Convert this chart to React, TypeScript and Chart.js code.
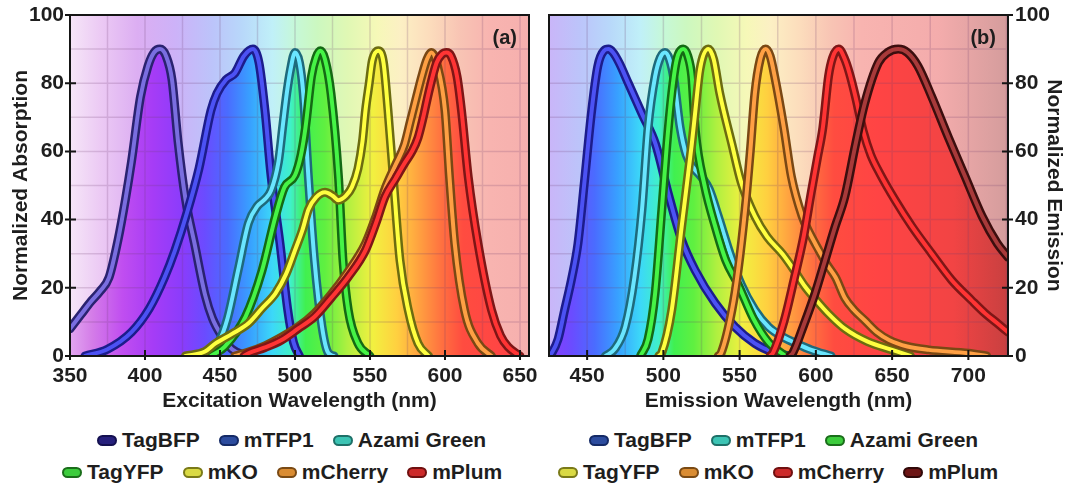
import React, { useEffect, useRef } from 'react';
import { Chart, registerables } from 'chart.js';

Chart.register(...registerables);

type Pt = [number, number];

// ---------- data ----------
const proteinNames = ['TagBFP', 'mTFP1', 'Azami Green', 'TagYFP', 'mKO', 'mCherry', 'mPlum'];

// Excitation (absorption) spectra: [wavelength nm, normalized value]
const exTagBFP: Pt[] = [[350, 8], [357, 12], [364, 16], [370, 19], [376, 23], [382, 34], [387, 46], [391, 57], [397, 76], [402, 85], [406, 89], [410, 90], [414, 88], [418, 81], [422, 63], [427, 46], [433, 33], [440, 18], [445, 11], [451, 6], [458, 2], [468, 0]];
const exMTFP1: Pt[] = [[360, 0], [375, 2], [391, 7], [403, 14], [413, 23], [420, 31], [428, 42], [436, 55], [444, 72], [448, 77], [454, 81], [460, 83], [466, 88], [472, 90], [476, 86], [480, 72], [484, 53], [490, 33], [495, 14], [499, 4], [503, 0]];
const exAzami: Pt[] = [[436, 0], [442, 1.5], [449, 4], [455, 11], [462, 25], [469, 39], [475, 44], [480, 46], [484, 48.5], [489, 57], [492, 68], [494.5, 77], [497, 84], [500, 89], [503, 86], [505.5, 77], [509, 52], [513, 28], [518, 8.6], [522, 1], [526, 0]];
const exTagYFP: Pt[] = [[444, 0], [453, 2.7], [467, 11.5], [478, 25], [487, 41], [493, 49.5], [500, 53], [504, 59], [507, 67], [511, 82], [514, 87.5], [517, 89.5], [520, 87], [524, 77], [529, 52.5], [532, 28], [535.5, 13.5], [542, 3.7], [550, 0]];
const exMKO: Pt[] = [[427, 0], [440, 1.3], [447, 3.7], [458, 6.5], [469, 9.6], [478, 14], [487, 18.4], [494, 24], [500, 31], [505, 37], [509, 43], [514, 46.5], [520, 48], [525, 47], [529, 45.7], [534, 47], [538, 49.6], [542, 55], [545, 63], [547, 72], [549.5, 80], [551.5, 86.5], [555.5, 89.5], [559, 86], [562, 72], [565.5, 52.5], [570, 28], [575.5, 13.5], [582, 3.7], [589, 0]];
const exMCherry: Pt[] = [[460, 0], [468, 1], [480, 3], [491, 5.5], [502, 8.5], [513, 12.5], [524, 18], [535, 24.5], [547, 33], [554, 41], [560, 49], [567, 56], [573, 62], [577, 69], [581, 76], [584.5, 82], [588, 87], [591, 89], [595, 85], [600, 72], [603, 52.5], [606.5, 33], [613, 13.5], [622, 3.7], [631, 0]];
const exMPlum: Pt[] = [[466, 0], [469, 0.8], [480, 2.5], [491, 4.7], [502, 8], [513, 11.5], [524, 17], [535.5, 23.2], [547, 31], [554, 39], [560, 46.7], [567, 52], [573, 56.5], [578, 60], [582, 64], [585.5, 70], [589, 77], [594.4, 86], [598, 88.5], [601, 89], [604, 88], [608, 82], [611, 72], [615.5, 52.5], [622, 33], [631, 13.5], [637, 6], [642, 2.7], [650, 0]];

// Emission spectra
const emTagBFP: Pt[] = [[425, 0], [427, 1], [431, 5], [435, 13], [440, 23], [444, 33], [448, 50], [453, 72], [457, 85], [461, 89.5], [464, 90], [467, 89], [471, 86], [477, 80], [486, 71], [495, 62], [503, 48], [512, 34], [521, 25], [534, 15.5], [547, 8.5], [560, 3.7], [571, 1.3], [582, 0]];
const emMTFP1: Pt[] = [[462, 0], [468, 2], [475, 8.6], [481, 23], [486, 43], [490, 67], [494.6, 82], [498, 87.5], [501, 89], [504, 87], [507, 81], [511, 67], [515, 59], [520, 55], [525, 52.5], [530, 49], [536, 41], [543, 31], [551, 21], [560, 13.5], [569, 8.5], [578, 5.7], [588, 3.5], [597, 1.8], [610, 0]];
const emAzami: Pt[] = [[485, 0], [490, 5], [494.6, 18.4], [499, 43], [502.3, 62], [505.5, 77], [508.8, 87], [513, 90], [516, 88], [518.6, 82], [521, 66], [527, 50], [534, 38], [541, 28], [549, 21], [559, 11], [569, 4], [580, 0]];
const emTagYFP: Pt[] = [[497, 0], [499, 1], [505.5, 13.5], [512, 38], [518.6, 62], [521, 72], [524, 84], [529.5, 90], [533, 87], [537, 77], [545, 62], [551, 51], [560, 41], [568, 35], [578, 30], [586, 25], [593, 20.3], [600, 16.5], [608, 12.5], [619, 8], [634, 4.2], [650, 1.8], [662, 0]];
const emMKO: Pt[] = [[536, 0], [538, 1], [545, 13.5], [549, 25], [553.6, 43], [557, 60], [560, 77], [563.5, 87], [567, 90], [570, 88], [573, 82], [579, 67], [584, 52.5], [591, 41], [596, 36], [602, 31], [607, 27], [613, 23], [619, 17], [625, 13.5], [632, 10.5], [640, 7], [648, 4.7], [660, 2.8], [674, 1.8], [700, 0.8], [712, 0]];
const emMCherry: Pt[] = [[570, 0], [572, 1], [579, 10], [586, 23], [592, 35], [597, 48], [601, 58], [604.6, 67], [608.3, 82], [611, 87.5], [615, 90], [619, 87], [622, 83], [626, 76], [631, 66], [636, 59], [642, 53.5], [652, 45.7], [663, 38], [676, 30], [689, 22.3], [702, 16.4], [711, 12.5], [719, 9.6], [726, 7]];
const emMPlum: Pt[] = [[583, 0], [585, 1], [592, 9], [599.5, 18.4], [606, 28], [612.7, 38], [619, 46.7], [626, 62], [632, 74], [641, 86], [647, 89], [654, 90], [660, 89], [667, 85], [676, 76], [687, 64], [698, 52.5], [709, 41], [719, 33], [726, 29]];

const exSeries = [exTagBFP, exMTFP1, exAzami, exTagYFP, exMKO, exMCherry, exMPlum];
const emSeries = [emTagBFP, emMTFP1, emAzami, emTagYFP, emMKO, emMCherry, emMPlum];

// axes
const exRange = [350, 656];
const emRange = [425, 726];
const exGridX = [350, 375, 400, 425, 450, 475, 500, 525, 550, 575, 600, 625, 650];
const exTickLabels = [350, 400, 450, 500, 550, 600, 650];
const emGridX = [425, 450, 475, 500, 525, 550, 575, 600, 625, 650, 675, 700, 725];
const emTickLabels = [450, 500, 550, 600, 650, 700];
const yGrid = [0, 10, 20, 30, 40, 50, 60, 70, 80, 90, 100];
const yTickLabels = [0, 20, 40, 60, 80, 100];

// ---------- styles ----------
const FONT = "'Liberation Sans', Arial, Helvetica, sans-serif";
const TEXT = '#1e1e1e';

const exInner = ['#7a6ee0', '#4c52f4', '#6ae6ff', '#46f446', '#ffff40', '#ffa044', '#ff3434'];
const exOuter = ['#2a2270', '#1c1c8c', '#1e6a7c', '#146a14', '#6c6c10', '#7a4814', '#7e1616'];
const emInner = ['#4c52f4', '#6ae6ff', '#46f446', '#ffff40', '#ffa044', '#ff3434', '#a83a3a'];
const emOuter = ['#1c1c8c', '#1e6a7c', '#146a14', '#6c6c10', '#7a4814', '#7e1616', '#3c0e0e'];

const exLegendFill = ['#26207c', '#2c4c9e', '#3cc4b4', '#3ccc3c', '#dada44', '#da8c32', '#cc2a2a'];
const exLegendEdge = ['#141050', '#142a66', '#1e7068', '#1a6e1a', '#7a7a18', '#7a4a14', '#701010'];
const emLegendFill = ['#2c4c9e', '#3cc4b4', '#3ccc3c', '#dada44', '#da8c32', '#cc2a2a', '#6c1414'];
const emLegendEdge = ['#142a66', '#1e7068', '#1a6e1a', '#7a7a18', '#7a4a14', '#701010', '#300808'];

const fillStops: [number, string][] = [
  [350, '#e2a6f0'], [365, '#d47ce8'], [385, '#c04ef0'], [405, '#a63cf6'], [425, '#8a3cfc'],
  [440, '#6a4cff'], [455, '#4a6cff'], [470, '#38a0ff'], [485, '#3cd8f8'], [497, '#40f0c8'],
  [507, '#40f050'], [520, '#60f040'], [535, '#b0f040'], [552, '#f2f040'], [568, '#ffd040'],
  [583, '#ffa040'], [598, '#ff7040'], [612, '#ff4c40'], [640, '#ff4444'], [690, '#f24444'], [726, '#c84040'],
];
const bgStops: [number, string][] = [
  [350, '#f6e6f8'], [370, '#eccaf4'], [395, '#dcaef2'], [420, '#cdb2f8'], [445, '#bcc4fa'],
  [465, '#b8d8fa'], [485, '#c0f0f8'], [500, '#c6f8d8'], [515, '#ccf8c0'], [535, '#e0f8b4'],
  [555, '#f6f8b8'], [570, '#fcf0c4'], [590, '#fcdcbc'], [610, '#f8c4b4'], [630, '#f8b4b0'],
  [680, '#f4acac'], [726, '#d49c9c'],
];

function spectrum(chart: any, stops: [number, string][]) {
  const x = chart.scales.x;
  const first = stops[0][0];
  const last = stops[stops.length - 1][0];
  const g = chart.ctx.createLinearGradient(x.getPixelForValue(first), 0, x.getPixelForValue(last), 0);
  stops.forEach(([nm, c]) => g.addColorStop((nm - first) / (last - first), c));
  return g;
}

interface PanelSpec {
  series: Pt[][];
  inner: string[];
  outer: string[];
  range: number[];
  gridX: number[];
  tickLabels: number[];
  xTitle: string;
  yTitle: string;
  yPos: 'left' | 'right';
  tag: string;
  left: number;
  width: number;
  padding: { left: number; right: number; top: number; bottom: number };
  yAxisWidth: number;
}

function makeDeco(s: PanelSpec) {
  return {
    id: 'deco',
    beforeDatasetsDraw(chart: any) {
      const { ctx, chartArea: a } = chart;
      ctx.save();
      ctx.fillStyle = spectrum(chart, bgStops);
      ctx.fillRect(a.left, a.top, a.right - a.left, a.bottom - a.top);
      ctx.restore();
    },
    afterDatasetDraw(chart: any, args: any) {
      if (args.index !== 0) return;
      const { ctx, chartArea: a, scales } = chart;
      ctx.save();
      ctx.strokeStyle = 'rgba(110, 60, 110, 0.2)';
      ctx.lineWidth = 1.5;
      ctx.beginPath();
      s.gridX.forEach((v) => {
        const px = scales.x.getPixelForValue(v);
        if (px <= a.left + 1 || px >= a.right - 1) return;
        ctx.moveTo(px, a.top);
        ctx.lineTo(px, a.bottom);
      });
      yGrid.forEach((v) => {
        const py = scales.y.getPixelForValue(v);
        if (py <= a.top + 1 || py >= a.bottom - 1) return;
        ctx.moveTo(a.left, py);
        ctx.lineTo(a.right, py);
      });
      ctx.stroke();
      ctx.restore();
    },
    afterDraw(chart: any) {
      const { ctx, chartArea: a, scales } = chart;
      ctx.save();
      ctx.strokeStyle = '#151515';
      ctx.lineWidth = 2;
      ctx.strokeRect(a.left, a.top, a.right - a.left, a.bottom - a.top);
      ctx.beginPath();
      s.tickLabels.forEach((v) => {
        const px = scales.x.getPixelForValue(v);
        ctx.moveTo(px, a.bottom + 4);
        ctx.lineTo(px, a.bottom - 6);
      });
      yTickLabels.forEach((v) => {
        const py = scales.y.getPixelForValue(v);
        if (s.yPos === 'left') {
          ctx.moveTo(a.left - 5, py);
          ctx.lineTo(a.left + 6, py);
        } else {
          ctx.moveTo(a.right + 5, py);
          ctx.lineTo(a.right - 6, py);
        }
      });
      ctx.stroke();
      ctx.fillStyle = TEXT;
      ctx.font = `bold 20px ${FONT}`;
      ctx.textAlign = 'right';
      ctx.textBaseline = 'middle';
      ctx.fillText(s.tag, a.right - 12, a.top + 23);
      ctx.restore();
    },
  };
}

function buildConfig(s: PanelSpec): any {
  const toXY = (pts: Pt[]) => pts.map(([x, y]) => ({ x, y }));
  const common = { pointRadius: 0, pointHoverRadius: 0, cubicInterpolationMode: 'monotone', clip: 0 };
  const datasets: any[] = [];
  s.series.forEach((pts, i) =>
    datasets.push({
      ...common,
      label: proteinNames[i] + ' fill',
      data: toXY(pts),
      fill: 'origin',
      backgroundColor: (c: any) => (c.chart.chartArea ? spectrum(c.chart, fillStops) : 'rgba(0,0,0,0)'),
      borderColor: 'rgba(0,0,0,0)',
      borderWidth: 0,
      order: 100,
    }),
  );
  s.series.forEach((pts, i) =>
    datasets.push({
      ...common,
      label: proteinNames[i] + ' edge',
      data: toXY(pts),
      fill: false,
      borderColor: s.outer[i],
      borderWidth: 9,
      borderJoinStyle: 'round',
      borderCapStyle: 'round',
      order: 2 * (7 - i) + 1,
    }),
  );
  s.series.forEach((pts, i) =>
    datasets.push({
      ...common,
      label: proteinNames[i],
      data: toXY(pts),
      fill: false,
      borderColor: s.inner[i],
      borderWidth: 4,
      borderJoinStyle: 'round',
      borderCapStyle: 'round',
      order: 2 * (7 - i),
    }),
  );

  const font = { family: FONT, size: 21, weight: 'bold' as const };

  return {
    type: 'line',
    data: { datasets },
    plugins: [makeDeco(s)],
    options: {
      responsive: false,
      animation: false,
      devicePixelRatio: 1,
      layout: { padding: s.padding },
      events: [],
      plugins: { legend: { display: false }, tooltip: { enabled: false } },
      scales: {
        x: {
          type: 'linear',
          min: s.range[0],
          max: s.range[1],
          afterBuildTicks: (sc: any) => {
            sc.ticks = s.gridX.map((v) => ({ value: v }));
          },
          afterFit: (sc: any) => {
            sc.height = 64;
            sc.paddingLeft = 0;
            sc.paddingRight = 0;
          },
          grid: { display: false, drawTicks: false },
          border: { display: false },
          ticks: {
            autoSkip: false,
            maxRotation: 0,
            minRotation: 0,
            padding: 8,
            font,
            color: TEXT,
            callback: (v: any) => (s.tickLabels.includes(Number(v)) ? String(v) : ''),
          },
          title: { display: true, text: s.xTitle, font, color: TEXT, padding: { top: 0, bottom: 6 } },
        },
        y: {
          type: 'linear',
          position: s.yPos,
          min: 0,
          max: 100,
          afterBuildTicks: (sc: any) => {
            sc.ticks = yGrid.map((v) => ({ value: v }));
          },
          afterFit: (sc: any) => {
            sc.width = s.yAxisWidth;
            sc.paddingTop = 0;
            sc.paddingBottom = 0;
          },
          grid: { display: false, drawTicks: false },
          border: { display: false },
          ticks: {
            autoSkip: false,
            padding: s.yPos === 'left' ? 6 : 7,
            font,
            color: TEXT,
            callback: (v: any) => (yTickLabels.includes(Number(v)) ? String(v) : ''),
          },
          title: {
            display: true,
            text: s.yTitle,
            font,
            color: TEXT,
            padding: { top: s.yPos === 'left' ? 9 : 2, bottom: 0 },
          },
        },
      },
    },
  };
}

function Panel({ spec }: { spec: PanelSpec }) {
  const ref = useRef<HTMLCanvasElement | null>(null);
  useEffect(() => {
    if (!ref.current) return;
    const chart = new Chart(ref.current, buildConfig(spec));
    return () => chart.destroy();
  }, [spec]);
  return (
    <canvas
      ref={ref}
      width={spec.width}
      height={420}
      style={{ position: 'absolute', left: spec.left, top: 0, width: spec.width, height: 420 }}
    />
  );
}

function LegendRow({ names, fills, edges, left, top }: { names: string[]; fills: string[]; edges: string[]; left: number; top: number }) {
  return (
    <div
      style={{
        position: 'absolute',
        left,
        top,
        height: 26,
        display: 'flex',
        alignItems: 'center',
        whiteSpace: 'nowrap',
        fontFamily: FONT,
        fontWeight: 'bold',
        fontSize: 21,
        lineHeight: '26px',
        color: TEXT,
      }}
    >
      {names.map((n, i) => (
        <div key={n} style={{ display: 'flex', alignItems: 'center', marginRight: i < names.length - 1 ? 19 : 0 }}>
          <span
            style={{
              display: 'inline-block',
              width: 20,
              height: 11,
              borderRadius: 6,
              background: fills[i],
              border: `2px solid ${edges[i]}`,
              boxSizing: 'border-box',
              marginRight: 5,
            }}
          />
          <span>{n}</span>
        </div>
      ))}
    </div>
  );
}

const exSpec: PanelSpec = {
  series: exSeries,
  inner: exInner,
  outer: exOuter,
  range: exRange,
  gridX: exGridX,
  tickLabels: exTickLabels,
  xTitle: 'Excitation Wavelength (nm)',
  yTitle: 'Normalized Absorption',
  yPos: 'left',
  tag: '(a)',
  left: 0,
  width: 540,
  padding: { left: 0, right: 11, top: 15, bottom: 0 },
  yAxisWidth: 70,
};

const emSpec: PanelSpec = {
  series: emSeries,
  inner: emInner,
  outer: emOuter,
  range: emRange,
  gridX: emGridX,
  tickLabels: emTickLabels,
  xTitle: 'Emission Wavelength (nm)',
  yTitle: 'Normalized Emission',
  yPos: 'right',
  tag: '(b)',
  left: 540,
  width: 528,
  padding: { left: 9, right: 0, top: 15, bottom: 0 },
  yAxisWidth: 60,
};

export default function App() {
  return (
    <div style={{ position: 'absolute', left: 0, top: 0, width: 1068, height: 487, background: '#ffffff', overflow: 'hidden' }}>
      <Panel spec={exSpec} />
      <Panel spec={emSpec} />
      <LegendRow names={proteinNames.slice(0, 3)} fills={exLegendFill.slice(0, 3)} edges={exLegendEdge.slice(0, 3)} left={97} top={427} />
      <LegendRow names={proteinNames.slice(3)} fills={exLegendFill.slice(3)} edges={exLegendEdge.slice(3)} left={62} top={459} />
      <LegendRow names={proteinNames.slice(0, 3)} fills={emLegendFill.slice(0, 3)} edges={emLegendEdge.slice(0, 3)} left={589} top={427} />
      <LegendRow names={proteinNames.slice(3)} fills={emLegendFill.slice(3)} edges={emLegendEdge.slice(3)} left={558} top={459} />
    </div>
  );
}
